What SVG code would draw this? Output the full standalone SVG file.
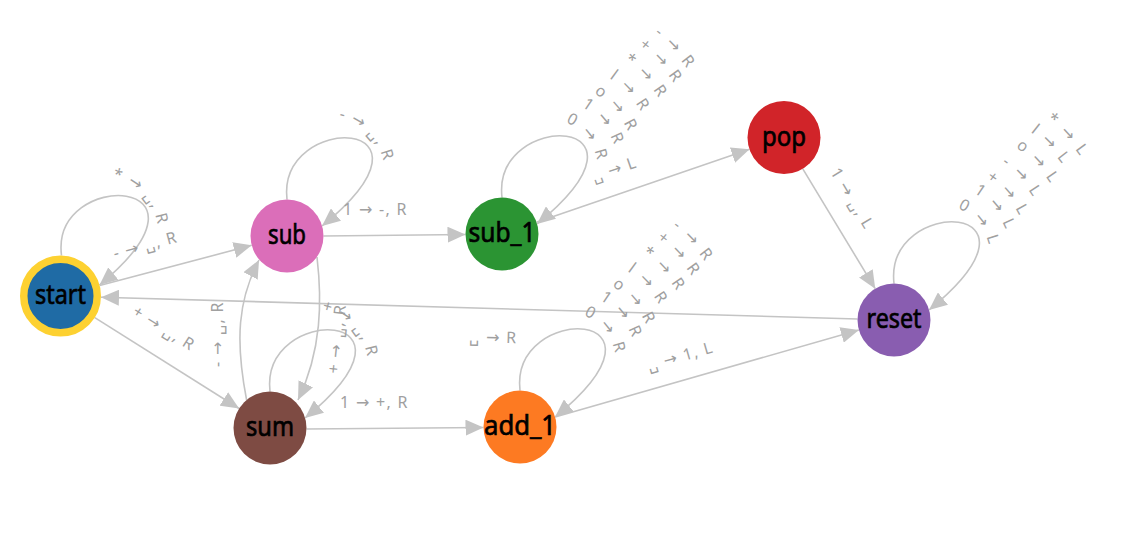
<svg xmlns="http://www.w3.org/2000/svg" width="1143" height="558" viewBox="0 0 1143 558">
<style>
.edge{fill:none;stroke:#c4c4c4;stroke-width:1.6}
.lbl{font-family:"Noto Sans","DejaVu Sans",sans-serif;font-size:16px;fill:#a0a0a0;letter-spacing:1.3px}
.stk{letter-spacing:2.6px}
.node text{font-family:"Noto Sans","DejaVu Sans",sans-serif;font-size:28px;fill:#000;stroke:#000;stroke-width:0.7px;text-anchor:middle}
</style>
<defs>
<marker id="arr" markerUnits="userSpaceOnUse" markerWidth="18" markerHeight="16" viewBox="0 0 18 16" refX="18" refY="8" orient="auto">
<path d="M0,0L18,8L0,16z" fill="#c4c4c4"/>
</marker>
<!-- label arcs, relative to node centre; loop centre at (42,-62) -->
<path id="loopArc" d="M51.72,-117.15 A56,56 0 0 1 78,-19.1"/>
<path id="s0" d="M63.73,-111.98 A54.5,54.5 0 0 1 91.98,-40.27"/>
<path id="s1" d="M79.41,-127.58 A75.5,75.5 0 0 1 107.58,-24.59"/>
<path id="s2" d="M92.10,-140.94 A93.5,93.5 0 0 1 120.94,-11.90"/>
<path id="s3" d="M107.35,-156.02 A114.5,114.5 0 0 1 136.02,3.35"/>
<path id="s4" d="M121.65,-172.85 A136.5,136.5 0 0 1 152.85,17.65"/>
<path id="s5" d="M136.56,-187.95 A157.5,157.5 0 0 1 167.95,32.56"/>
<path id="s6" d="M152.12,-199.93 A176.5,176.5 0 0 1 179.93,48.12"/>
</defs>
<rect width="1143" height="558" fill="#fff"/>

<g id="connectors">
<!-- self loops -->
<path class="edge" marker-end="url(#arr)" transform="translate(60.5,296)" d="M1,-40.5 C-10,-128 172,-121 39,-11"/>
<path class="edge" marker-end="url(#arr)" transform="translate(287,236)" d="M0,-36.5 C-10,-125 170,-120 35,-10"/>
<path class="edge" marker-end="url(#arr)" transform="translate(502,234)" d="M0,-36.5 C-10,-125 170,-120 35,-10"/>
<path class="edge" marker-end="url(#arr)" transform="translate(894,320)" d="M0,-36.5 C-10,-125 170,-120 35,-10"/>
<path class="edge" marker-end="url(#arr)" transform="translate(270,428)" d="M0,-36.5 C-10,-125 170,-120 35,-10"/>
<path class="edge" marker-end="url(#arr)" transform="translate(520,427)" d="M0,-36.5 C-10,-125 170,-120 35,-10"/>
<!-- transitions -->
<path class="edge" marker-end="url(#arr)" d="M99.7,285.6 L251.7,245.3"/>
<path class="edge" marker-end="url(#arr)" d="M94.8,317.6 L239.1,408.5"/>
<path class="edge" marker-end="url(#arr)" d="M857.5,319 L101,297.2"/>
<path class="edge" marker-end="url(#arr)" d="M323.5,236 L465.5,234.5"/>
<path class="edge" marker-end="url(#arr)" d="M306.5,429 L483.5,427.5"/>
<path class="edge" marker-end="url(#arr)" d="M536.5,222.2 L749.5,149.3"/>
<path class="edge" marker-end="url(#arr)" d="M802.8,168.8 L875.2,288.7"/>
<path class="edge" marker-end="url(#arr)" d="M555.1,417 L858.9,330"/>
<path class="edge" marker-end="url(#arr)" d="M246.6,400 C235,340 238,300 259,260"/>
<path class="edge" marker-end="url(#arr)" d="M317,257 C322,300 322,350 298,400"/>

<!-- loop labels -->
<g transform="translate(60.5,296)"><text class="lbl"><textPath href="#loopArc">* → ␣, R</textPath></text></g>
<g transform="translate(287,236)"><text class="lbl"><textPath href="#loopArc">- → ␣, R</textPath></text></g>
<g transform="translate(270,428)"><text class="lbl"><textPath href="#loopArc">+ → ␣, R</textPath></text></g>
<g transform="translate(502,234)">
<text class="lbl stk"><textPath href="#s0">0 → R</textPath></text>
<text class="lbl stk"><textPath href="#s1">1 → R</textPath></text>
<text class="lbl stk"><textPath href="#s2">o → R</textPath></text>
<text class="lbl stk"><textPath href="#s3">l → R</textPath></text>
<text class="lbl stk"><textPath href="#s4">* → R</textPath></text>
<text class="lbl stk"><textPath href="#s5">+ → R</textPath></text>
<text class="lbl stk"><textPath href="#s6">- → R</textPath></text>
</g>
<g transform="translate(520,427)">
<text class="lbl stk"><textPath href="#s0">0 → R</textPath></text>
<text class="lbl stk"><textPath href="#s1">1 → R</textPath></text>
<text class="lbl stk"><textPath href="#s2">o → R</textPath></text>
<text class="lbl stk"><textPath href="#s3">l → R</textPath></text>
<text class="lbl stk"><textPath href="#s4">* → R</textPath></text>
<text class="lbl stk"><textPath href="#s5">+ → R</textPath></text>
<text class="lbl stk"><textPath href="#s6">- → R</textPath></text>
</g>
<g transform="translate(894,320)">
<text class="lbl stk"><textPath href="#s0">0 → L</textPath></text>
<text class="lbl stk"><textPath href="#s1">1 → L</textPath></text>
<text class="lbl stk"><textPath href="#s2">+ → L</textPath></text>
<text class="lbl stk"><textPath href="#s3">- → L</textPath></text>
<text class="lbl stk"><textPath href="#s4">o → L</textPath></text>
<text class="lbl stk"><textPath href="#s5">l → L</textPath></text>
<text class="lbl stk"><textPath href="#s6">* → L</textPath></text>
</g>

<!-- transition labels -->
<text class="lbl" transform="translate(115,259) rotate(-15)">- → ␣, R</text>
<text class="lbl" transform="translate(131.5,314.3) rotate(32)">+ → ␣, R</text>
<text class="lbl" x="343" y="215">1 → -, R</text>
<text class="lbl" x="340" y="408">1 → +, R</text>
<text class="lbl" transform="translate(594,182) rotate(-19)">␣ → L</text>
<text class="lbl" transform="translate(830,172) rotate(59)">1 → ␣, L</text>
<text class="lbl" transform="translate(649,371) rotate(-16)">␣ → 1, L</text>
<text class="lbl" transform="translate(469,342) rotate(1.6)">␣ → R</text>
<text class="lbl" transform="translate(223,367) rotate(-90)">- → ␣, R</text>
<text class="lbl" transform="translate(338.6,374) rotate(-84)">+ → ␣, R</text>
</g>

<g id="start" class="node">
<circle cx="60.5" cy="296" r="36.75" fill="#1f6ba5" stroke="#fdd131" stroke-width="7.5"/>
<text x="60.5" y="304" textLength="51" lengthAdjust="spacingAndGlyphs">start</text>
</g>
<g id="sub" class="node">
<circle cx="287" cy="236" r="36.5" fill="#db6eb9"/>
<text x="287" y="244" textLength="38" lengthAdjust="spacingAndGlyphs">sub</text>
</g>
<g id="sub_1" class="node">
<circle cx="502" cy="234" r="36.5" fill="#2b9433"/>
<text x="502" y="242" textLength="67" lengthAdjust="spacingAndGlyphs">sub_1</text>
</g>
<g id="pop" class="node">
<circle cx="784" cy="137.5" r="36.5" fill="#d12429"/>
<text x="784" y="145.5" textLength="44" lengthAdjust="spacingAndGlyphs">pop</text>
</g>
<g id="reset" class="node">
<circle cx="894" cy="320" r="36.5" fill="#895db0"/>
<text x="894" y="328" textLength="55" lengthAdjust="spacingAndGlyphs">reset</text>
</g>
<g id="sum" class="node">
<circle cx="270" cy="428" r="36.5" fill="#7e4b43"/>
<text x="270" y="436" textLength="48" lengthAdjust="spacingAndGlyphs">sum</text>
</g>
<g id="add_1" class="node">
<circle cx="520" cy="427" r="36.5" fill="#fd7a22"/>
<text x="520" y="435" textLength="72" lengthAdjust="spacingAndGlyphs">add_1</text>
</g>
</svg>
